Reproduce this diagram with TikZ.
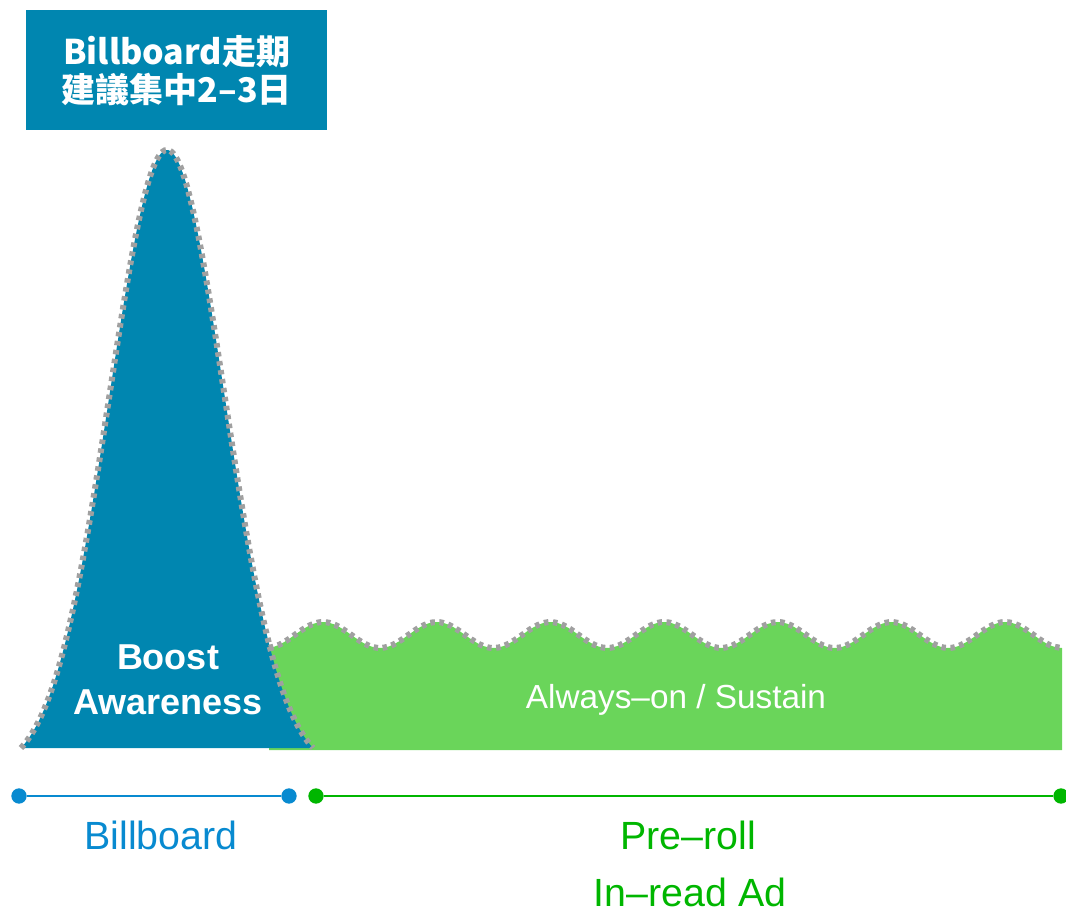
\documentclass[tikz,border=0pt]{standalone}
\usepackage{fontspec}
\setmainfont{Liberation Sans}
\newfontfamily\cjk{Noto Sans CJK TC}
\definecolor{bbblue}{RGB}{0,134,176}
\definecolor{lineblue}{RGB}{8,138,208}
\definecolor{fillgreen}{RGB}{106,213,90}
\definecolor{linegreen}{RGB}{0,182,0}
\definecolor{dashgray}{RGB}{160,160,160}
\begin{document}
\begin{tikzpicture}[x=0.75pt,y=-0.75pt,
  dashline/.style={draw=dashgray,line width=4.5pt,dash pattern=on 3.4pt off 3.4pt},
  bdot/.style={circle,fill=lineblue,inner sep=0pt,minimum size=11.5pt},
  gdot/.style={circle,fill=linegreen,inner sep=0pt,minimum size=11.5pt},
  whitelbl/.style={text=white,align=center,inner sep=0pt},
  bottomlbl/.style={inner sep=0pt,anchor=base,font=\fontsize{29.5}{32}\selectfont}]
\useasboundingbox (0,0) rectangle (1066,913);
% green sustain region
\fill[fillgreen] (269,750) -- plot[domain=269:1062,samples=160] (\x,{635-13*cos(((\x-323)/113.7)*360)}) -- (1062,750) -- cycle;
% blue bell
\fill[bbblue] plot[domain=21:313,samples=120] (\x,{748-598*(exp(-((\x-167)/57.5)^2/2)-0.0398)/0.9602}) -- cycle;
% outlines
\draw[dashline] plot[smooth,domain=269:1062,samples=80] (\x,{635-13*cos(((\x-323)/113.7)*360)});
\draw[dashline] plot[smooth,domain=21:313,samples=70] (\x,{748-598*(exp(-((\x-167)/57.5)^2/2)-0.0398)/0.9602});
% title box
\node[fill=bbblue,minimum width=225.75pt,minimum height=90pt,inner sep=0pt,anchor=north west,
      text=white,align=center,font={\cjk\bfseries\fontsize{25.5}{28.5}\selectfont}] (title) at (26,10)
  {Billboard走期\\建議集中2–3日};
% labels in shapes
\node[whitelbl,font={\bfseries\fontsize{27}{34}\selectfont}] (boost) at (168,680) {Boost\\Awareness};
\node[whitelbl,font={\fontsize{25}{28}\selectfont}] (sustain) at (676,700) {Always–on / Sustain};
% timeline
\node[bdot] (b1) at (19,796) {};
\node[bdot] (b2) at (289,796) {};
\node[gdot] (g1) at (316,796) {};
\node[gdot] (g2) at (1061,796) {};
\draw[lineblue,line width=1.6pt] (b1) -- (b2);
\draw[linegreen,line width=1.6pt] (g1) -- (g2);
\node[bottomlbl,text=lineblue] (billboard) at (161,849) {Billboard};
\node[bottomlbl,text=linegreen] (preroll) at (688,849) {Pre–roll};
\node[bottomlbl,text=linegreen] (inread) at (690,906) {In–read Ad};
\end{tikzpicture}
\end{document}
